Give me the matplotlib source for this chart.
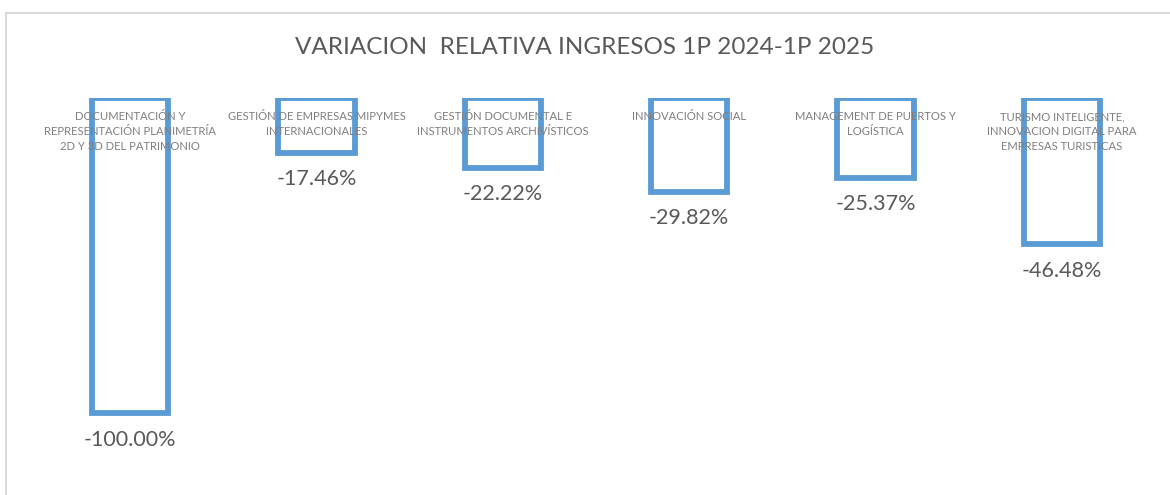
import matplotlib.pyplot as plt
from matplotlib.patches import Rectangle

plt.rcParams['font.family'] = ['Lato', 'DejaVu Sans']

titulo = 'VARIACION  RELATIVA INGRESOS 1P 2024-1P 2025'
programas = ['DOCUMENTACIÓN Y\nREPRESENTACIÓN PLANIMETRÍA\n2D Y 3D DEL PATRIMONIO',
             'GESTIÓN DE EMPRESAS MIPYMES\nINTERNACIONALES',
             'GESTIÓN DOCUMENTAL E\nINSTRUMENTOS ARCHIVÍSTICOS',
             'INNOVACIÓN SOCIAL',
             'MANAGEMENT DE PUERTOS Y\nLOGÍSTICA',
             'TURISMO INTELIGENTE,\nINNOVACION DIGITAL PARA\nEMPRESAS TURISTICAS']
variacion = [-1.0, -0.1746, -0.2222, -0.2982, -0.2537, -0.4648]

fig = plt.figure(figsize=(11.7, 4.95), dpi=100)
# borde gris del grafico
fig.patches.append(Rectangle((6 / 1170, -0.05), 1.1, 1 - 12.5 / 495 + 0.05,
                             transform=fig.transFigure, fill=False,
                             edgecolor='#d9d9d9', linewidth=1.5))

ax = fig.add_axes([37 / 1170, 0.0, (1155 - 37) / 1170, (495 - 97.5) / 495])
x = list(range(len(programas)))
ax.bar(x, variacion, width=0.41, facecolor='none', edgecolor='#5b9bd5',
       linewidth=4.2)
ax.set_xlim(-0.5, len(programas) - 0.5)
ax.set_ylim(-1.26, 0)
ax.axis('off')

for i, v in enumerate(variacion):
    ax.annotate('%.2f%%' % (v * 100), (i, v), xytext=(0, -12),
                textcoords='offset points', ha='center', va='top',
                fontsize=15.5, color='#595959')
    ax.annotate(programas[i], (i, 0), xytext=(0, -10),
                textcoords='offset points', ha='center', va='top',
                fontsize=8.1, color='#7f7f7f', linespacing=1.4)

fig.text(0.5, 1 - 47 / 495, titulo, ha='center', va='center',
         fontsize=17.5, color='#595959')

fig.savefig('out.png', dpi=100)
